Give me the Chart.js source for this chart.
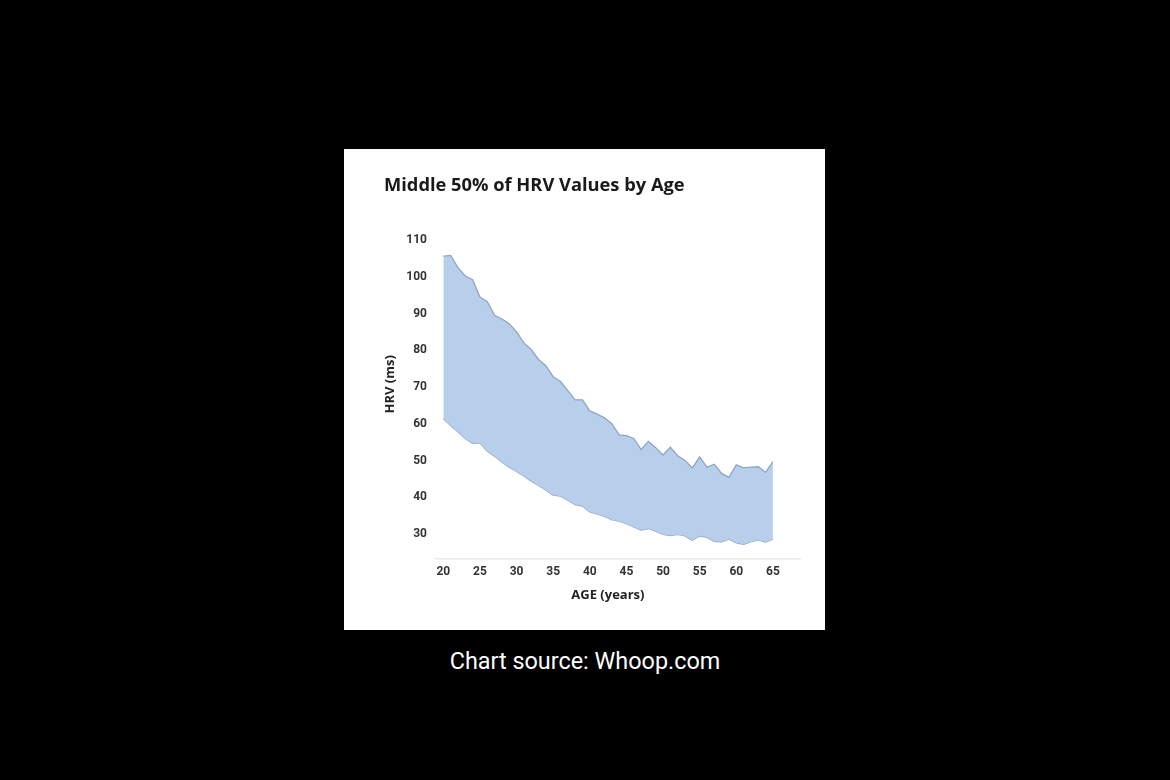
<!DOCTYPE html>
<html>
<head>
<meta charset="utf-8">
<script src="https://cdn.jsdelivr.net/npm/chart.js"></script>
<style>
  body { margin: 0; background: #000; width: 1170px; height: 780px; overflow: hidden; position: relative; }
  #panel { position: absolute; left: 344px; top: 149px; width: 481px; height: 481px; background: #fff; }
  #title { position: absolute; left: 40px; top: 22px; font: 700 18.3px "Open Sans", sans-serif; color: #1a1a1a; white-space: nowrap; }
  #caption { position: absolute; left: 0; width: 1170px; top: 647px; text-align: center; font: 23.4px Roboto, sans-serif; color: #fff; }
  canvas { position: absolute; left: 0; top: 0; }
</style>
</head>
<body>
<div id="panel">
  <canvas id="myChart" width="481" height="481"></canvas>
  <div id="title">Middle 50% of HRV Values by Age</div>
</div>
<div id="caption">Chart source: Whoop.com</div>
<script>
// ages 20..65
const ages = [20,21,22,23,24,25,26,27,28,29,30,31,32,33,34,35,36,37,38,39,40,41,42,43,44,45,
  46,47,48,49,50,51,52,53,54,55,56,57,58,59,60,61,62,63,64,65];
// 75th percentile (upper edge)
const upper = [105.6,105.8,102.5,100.2,99.2,94.5,93.2,89.5,88.5,87.2,85,82,80.2,77.5,75.8,72.8,71.5,69,66.5,66.5,
  63.5,62.6,61.6,60,57,56.8,56,53,55.2,53.5,51.5,53.6,51.3,50,48,51,48.2,49,46.5,45.4,48.8,48,48.2,48.3,46.8,49.7];
// 25th percentile (lower edge)
const lower = [61.4,59.5,57.8,56,54.7,54.8,52.6,51.2,49.6,48.2,47,45.8,44.4,43.2,42,40.6,40.3,39.2,38,37.6,
  36,35.5,34.8,33.9,33.5,32.8,31.9,31.1,31.5,30.8,29.9,29.6,29.9,29.5,28.3,29.5,29.1,28,27.9,28.6,27.6,27.2,27.9,28.4,27.8,28.6];
const xTicks = [20,25,30,35,40,45,50,55,60,65];
const yTicks = [30,40,50,60,70,80,90,100,110];

const tickFont = { family: 'Roboto', weight: 'bold', size: 12 };
const titleFont = { family: 'Open Sans', weight: 'bold', size: 13 };

const ctx = document.getElementById('myChart').getContext('2d');
const myChart = new Chart(ctx, {
  type: 'line',
  data: {
    datasets: [
      {
        label: 'upper',
        data: ages.map((a, i) => ({ x: a, y: upper[i] })),
        borderColor: '#8ea5c4',
        borderWidth: 1.3,
        backgroundColor: '#b8cfeb',
        fill: '+1',
        pointRadius: 0,
        tension: 0
      },
      {
        label: 'lower',
        data: ages.map((a, i) => ({ x: a, y: lower[i] })),
        borderColor: '#8ea5c4',
        borderWidth: 1.3,
        fill: false,
        pointRadius: 0,
        tension: 0
      }
    ]
  },
  options: {
    responsive: false,
    animation: false,
    layout: { padding: { left: 38, right: 25, top: 91, bottom: 21 } },
    plugins: { legend: { display: false }, tooltip: { enabled: false } },
    scales: {
      x: {
        type: 'linear',
        min: 19,
        max: 68.7,
        afterBuildTicks: (s) => { s.ticks = xTicks.map(v => ({ value: v })); },
        afterFit: (s) => { s.height = 50; },
        grid: { display: false, drawTicks: false },
        border: { display: true, color: '#e8e8e8', width: 1.5 },
        ticks: { padding: 6, color: '#333', font: tickFont, maxRotation: 0 },
        // trailing spaces nudge the label left like the original
        title: { display: true, text: 'AGE (years)      ', color: '#222', font: titleFont, padding: { top: 0, bottom: 6 } }
      },
      y: {
        min: 23.2,
        max: 110,
        afterBuildTicks: (s) => { s.ticks = yTicks.map(v => ({ value: v })); },
        afterFit: (s) => { s.width = 54; },
        grid: { display: false, drawTicks: false },
        border: { display: false },
        ticks: { padding: 9, color: '#333', font: tickFont },
        title: { display: true, text: '         HRV (ms)', color: '#222', font: titleFont, padding: 0 }
      }
    }
  }
});
</script>
</body>
</html>
